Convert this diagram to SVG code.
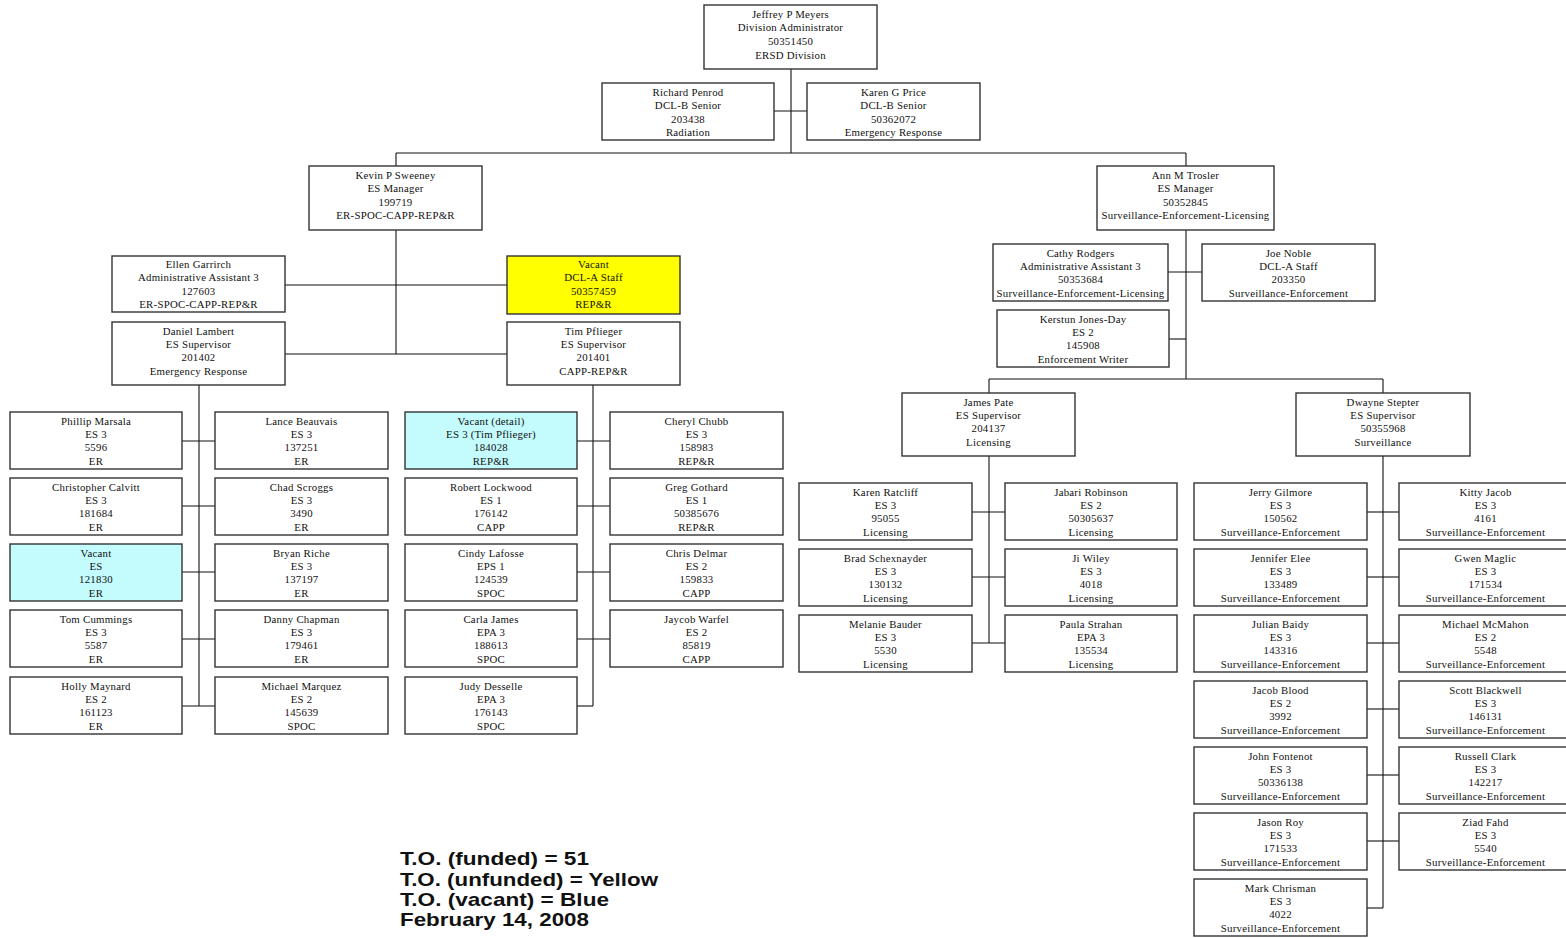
<svg xmlns="http://www.w3.org/2000/svg" width="1566" height="938" viewBox="0 0 1566 938">
<style>
.n rect{fill:#fff;stroke:#333;stroke-width:1.4}
.n.y rect{fill:#ffff00}
.n.b rect{fill:#c4fbfd}
.n text{font-family:"Liberation Serif","Times New Roman",serif;font-size:10.8px;letter-spacing:0.25px;fill:#111;text-anchor:middle}
.c line{stroke:#111;stroke-width:1.1}
.lg{font-family:"Liberation Sans",Arial,sans-serif;font-size:19px;font-weight:bold;fill:#111}
</style>
<rect width="1566" height="938" fill="#fff"/>
<g class="c" id="connectors">
<line x1="791" y1="69" x2="791" y2="153"/>
<line x1="774" y1="111" x2="807" y2="111"/>
<line x1="396" y1="153" x2="1186" y2="153"/>
<line x1="396" y1="153" x2="396" y2="166"/>
<line x1="1186" y1="153" x2="1186" y2="166"/>
<line x1="396" y1="230" x2="396" y2="354"/>
<line x1="285" y1="285" x2="507" y2="285"/>
<line x1="285" y1="354" x2="507" y2="354"/>
<line x1="199" y1="385" x2="199" y2="706"/>
<line x1="182" y1="441" x2="215" y2="441"/>
<line x1="182" y1="506" x2="215" y2="506"/>
<line x1="182" y1="572" x2="215" y2="572"/>
<line x1="182" y1="639" x2="215" y2="639"/>
<line x1="182" y1="706" x2="215" y2="706"/>
<line x1="593" y1="385" x2="593" y2="706"/>
<line x1="577" y1="441" x2="610" y2="441"/>
<line x1="577" y1="506" x2="610" y2="506"/>
<line x1="577" y1="572" x2="610" y2="572"/>
<line x1="577" y1="639" x2="610" y2="639"/>
<line x1="577" y1="706" x2="593" y2="706"/>
<line x1="1186" y1="230" x2="1186" y2="379"/>
<line x1="1168" y1="272" x2="1202" y2="272"/>
<line x1="1169" y1="339" x2="1186" y2="339"/>
<line x1="989" y1="379" x2="1383" y2="379"/>
<line x1="989" y1="379" x2="989" y2="393"/>
<line x1="1383" y1="379" x2="1383" y2="393"/>
<line x1="989" y1="456" x2="989" y2="643"/>
<line x1="972" y1="512" x2="1005" y2="512"/>
<line x1="972" y1="577" x2="1005" y2="577"/>
<line x1="972" y1="643" x2="1005" y2="643"/>
<line x1="1383" y1="456" x2="1383" y2="908"/>
<line x1="1367" y1="512" x2="1399" y2="512"/>
<line x1="1367" y1="577" x2="1399" y2="577"/>
<line x1="1367" y1="643" x2="1399" y2="643"/>
<line x1="1367" y1="709" x2="1399" y2="709"/>
<line x1="1367" y1="775" x2="1399" y2="775"/>
<line x1="1367" y1="841" x2="1399" y2="841"/>
<line x1="1367" y1="908" x2="1383" y2="908"/>
</g>

<g class="n" id="jeffrey"><rect x="704" y="5" width="173" height="64"/><text x="790.5" y="17.5"><tspan x="790.5">Jeffrey P Meyers</tspan><tspan x="790.5" dy="13.7">Division Administrator</tspan><tspan x="790.5" dy="13.7">50351450</tspan><tspan x="790.5" dy="13.7">ERSD Division</tspan></text></g>
<g class="n" id="richard"><rect x="602" y="83" width="172" height="57"/><text x="688" y="95.5"><tspan x="688">Richard Penrod</tspan><tspan x="688" dy="13.6">DCL-B Senior</tspan><tspan x="688" dy="13.6">203438</tspan><tspan x="688" dy="13.6">Radiation</tspan></text></g>
<g class="n" id="karenprice"><rect x="807" y="83" width="173" height="57"/><text x="893.5" y="95.5"><tspan x="893.5">Karen G Price</tspan><tspan x="893.5" dy="13.6">DCL-B Senior</tspan><tspan x="893.5" dy="13.6">50362072</tspan><tspan x="893.5" dy="13.6">Emergency Response</tspan></text></g>
<g class="n" id="kevin"><rect x="309" y="166" width="173" height="64"/><text x="395.5" y="178.5"><tspan x="395.5">Kevin P Sweeney</tspan><tspan x="395.5" dy="13.6">ES Manager</tspan><tspan x="395.5" dy="13.6">199719</tspan><tspan x="395.5" dy="13.6">ER-SPOC-CAPP-REP&amp;R</tspan></text></g>
<g class="n" id="ann"><rect x="1097" y="166" width="177" height="64"/><text x="1185.5" y="178.5"><tspan x="1185.5">Ann M Trosler</tspan><tspan x="1185.5" dy="13.6">ES Manager</tspan><tspan x="1185.5" dy="13.6">50352845</tspan><tspan x="1185.5" dy="13.6">Surveillance-Enforcement-Licensing</tspan></text></g>
<g class="n" id="ellen"><rect x="112" y="256" width="173" height="56"/><text x="198.5" y="268"><tspan x="198.5">Ellen Garrirch</tspan><tspan x="198.5" dy="13.4">Administrative Assistant 3</tspan><tspan x="198.5" dy="13.4">127603</tspan><tspan x="198.5" dy="13.4">ER-SPOC-CAPP-REP&amp;R</tspan></text></g>
<g class="n y" id="vacant-dcla"><rect x="507" y="256" width="173" height="58"/><text x="593.5" y="268"><tspan x="593.5">Vacant</tspan><tspan x="593.5" dy="13.4">DCL-A Staff</tspan><tspan x="593.5" dy="13.4">50357459</tspan><tspan x="593.5" dy="13.4">REP&amp;R</tspan></text></g>
<g class="n" id="daniel"><rect x="112" y="322" width="173" height="63"/><text x="198.5" y="334.5"><tspan x="198.5">Daniel Lambert</tspan><tspan x="198.5" dy="13.4">ES Supervisor</tspan><tspan x="198.5" dy="13.4">201402</tspan><tspan x="198.5" dy="13.4">Emergency Response</tspan></text></g>
<g class="n" id="tim"><rect x="507" y="322" width="173" height="63"/><text x="593.5" y="334.5"><tspan x="593.5">Tim Pflieger</tspan><tspan x="593.5" dy="13.4">ES Supervisor</tspan><tspan x="593.5" dy="13.4">201401</tspan><tspan x="593.5" dy="13.4">CAPP-REP&amp;R</tspan></text></g>

<!-- Daniel's team -->
<g class="n" id="phillip"><rect x="10" y="412" width="172" height="57"/><text x="96" y="424.5"><tspan x="96">Phillip Marsala</tspan><tspan x="96" dy="13.4">ES 3</tspan><tspan x="96" dy="13.4">5596</tspan><tspan x="96" dy="13.4">ER</tspan></text></g>
<g class="n" id="lance"><rect x="215" y="412" width="173" height="57"/><text x="301.5" y="424.5"><tspan x="301.5">Lance Beauvais</tspan><tspan x="301.5" dy="13.4">ES 3</tspan><tspan x="301.5" dy="13.4">137251</tspan><tspan x="301.5" dy="13.4">ER</tspan></text></g>
<g class="n" id="christopher"><rect x="10" y="478" width="172" height="57"/><text x="96" y="490.5"><tspan x="96">Christopher Calvitt</tspan><tspan x="96" dy="13.4">ES 3</tspan><tspan x="96" dy="13.4">181684</tspan><tspan x="96" dy="13.4">ER</tspan></text></g>
<g class="n" id="chad"><rect x="215" y="478" width="173" height="57"/><text x="301.5" y="490.5"><tspan x="301.5">Chad Scroggs</tspan><tspan x="301.5" dy="13.4">ES 3</tspan><tspan x="301.5" dy="13.4">3490</tspan><tspan x="301.5" dy="13.4">ER</tspan></text></g>
<g class="n b" id="vacant-es"><rect x="10" y="544" width="172" height="57"/><text x="96" y="556.5"><tspan x="96">Vacant</tspan><tspan x="96" dy="13.4">ES</tspan><tspan x="96" dy="13.4">121830</tspan><tspan x="96" dy="13.4">ER</tspan></text></g>
<g class="n" id="bryan"><rect x="215" y="544" width="173" height="57"/><text x="301.5" y="556.5"><tspan x="301.5">Bryan Riche</tspan><tspan x="301.5" dy="13.4">ES 3</tspan><tspan x="301.5" dy="13.4">137197</tspan><tspan x="301.5" dy="13.4">ER</tspan></text></g>
<g class="n" id="tom"><rect x="10" y="610" width="172" height="57"/><text x="96" y="622.5"><tspan x="96">Tom Cummings</tspan><tspan x="96" dy="13.4">ES 3</tspan><tspan x="96" dy="13.4">5587</tspan><tspan x="96" dy="13.4">ER</tspan></text></g>
<g class="n" id="danny"><rect x="215" y="610" width="173" height="57"/><text x="301.5" y="622.5"><tspan x="301.5">Danny Chapman</tspan><tspan x="301.5" dy="13.4">ES 3</tspan><tspan x="301.5" dy="13.4">179461</tspan><tspan x="301.5" dy="13.4">ER</tspan></text></g>
<g class="n" id="holly"><rect x="10" y="677" width="172" height="57"/><text x="96" y="689.5"><tspan x="96">Holly Maynard</tspan><tspan x="96" dy="13.4">ES 2</tspan><tspan x="96" dy="13.4">161123</tspan><tspan x="96" dy="13.4">ER</tspan></text></g>
<g class="n" id="michaelm"><rect x="215" y="677" width="173" height="57"/><text x="301.5" y="689.5"><tspan x="301.5">Michael Marquez</tspan><tspan x="301.5" dy="13.4">ES 2</tspan><tspan x="301.5" dy="13.4">145639</tspan><tspan x="301.5" dy="13.4">SPOC</tspan></text></g>

<!-- Tim's team -->
<g class="n b" id="vacant-detail"><rect x="405" y="412" width="172" height="57"/><text x="491" y="424.5"><tspan x="491">Vacant (detail)</tspan><tspan x="491" dy="13.4">ES 3 (Tim Pflieger)</tspan><tspan x="491" dy="13.4">184028</tspan><tspan x="491" dy="13.4">REP&amp;R</tspan></text></g>
<g class="n" id="cheryl"><rect x="610" y="412" width="173" height="57"/><text x="696.5" y="424.5"><tspan x="696.5">Cheryl Chubb</tspan><tspan x="696.5" dy="13.4">ES 3</tspan><tspan x="696.5" dy="13.4">158983</tspan><tspan x="696.5" dy="13.4">REP&amp;R</tspan></text></g>
<g class="n" id="robert"><rect x="405" y="478" width="172" height="57"/><text x="491" y="490.5"><tspan x="491">Robert Lockwood</tspan><tspan x="491" dy="13.4">ES 1</tspan><tspan x="491" dy="13.4">176142</tspan><tspan x="491" dy="13.4">CAPP</tspan></text></g>
<g class="n" id="greg"><rect x="610" y="478" width="173" height="57"/><text x="696.5" y="490.5"><tspan x="696.5">Greg Gothard</tspan><tspan x="696.5" dy="13.4">ES 1</tspan><tspan x="696.5" dy="13.4">50385676</tspan><tspan x="696.5" dy="13.4">REP&amp;R</tspan></text></g>
<g class="n" id="cindy"><rect x="405" y="544" width="172" height="57"/><text x="491" y="556.5"><tspan x="491">Cindy Lafosse</tspan><tspan x="491" dy="13.4">EPS 1</tspan><tspan x="491" dy="13.4">124539</tspan><tspan x="491" dy="13.4">SPOC</tspan></text></g>
<g class="n" id="chris"><rect x="610" y="544" width="173" height="57"/><text x="696.5" y="556.5"><tspan x="696.5">Chris Delmar</tspan><tspan x="696.5" dy="13.4">ES 2</tspan><tspan x="696.5" dy="13.4">159833</tspan><tspan x="696.5" dy="13.4">CAPP</tspan></text></g>
<g class="n" id="carla"><rect x="405" y="610" width="172" height="57"/><text x="491" y="622.5"><tspan x="491">Carla James</tspan><tspan x="491" dy="13.4">EPA 3</tspan><tspan x="491" dy="13.4">188613</tspan><tspan x="491" dy="13.4">SPOC</tspan></text></g>
<g class="n" id="jaycob"><rect x="610" y="610" width="173" height="57"/><text x="696.5" y="622.5"><tspan x="696.5">Jaycob Warfel</tspan><tspan x="696.5" dy="13.4">ES 2</tspan><tspan x="696.5" dy="13.4">85819</tspan><tspan x="696.5" dy="13.4">CAPP</tspan></text></g>
<g class="n" id="judy"><rect x="405" y="677" width="172" height="57"/><text x="491" y="689.5"><tspan x="491">Judy Desselle</tspan><tspan x="491" dy="13.4">EPA 3</tspan><tspan x="491" dy="13.4">176143</tspan><tspan x="491" dy="13.4">SPOC</tspan></text></g>

<!-- Ann's staff -->
<g class="n" id="cathy"><rect x="993" y="244" width="175" height="57"/><text x="1080.5" y="256.5"><tspan x="1080.5">Cathy Rodgers</tspan><tspan x="1080.5" dy="13.4">Administrative Assistant 3</tspan><tspan x="1080.5" dy="13.4">50353684</tspan><tspan x="1080.5" dy="13.4">Surveillance-Enforcement-Licensing</tspan></text></g>
<g class="n" id="joe"><rect x="1202" y="244" width="173" height="57"/><text x="1288.5" y="256.5"><tspan x="1288.5">Joe Noble</tspan><tspan x="1288.5" dy="13.4">DCL-A Staff</tspan><tspan x="1288.5" dy="13.4">203350</tspan><tspan x="1288.5" dy="13.4">Surveillance-Enforcement</tspan></text></g>
<g class="n" id="kerstun"><rect x="997" y="310" width="172" height="57"/><text x="1083" y="322.5"><tspan x="1083">Kerstun Jones-Day</tspan><tspan x="1083" dy="13.4">ES 2</tspan><tspan x="1083" dy="13.4">145908</tspan><tspan x="1083" dy="13.4">Enforcement Writer</tspan></text></g>
<g class="n" id="james"><rect x="902" y="393" width="173" height="63"/><text x="988.5" y="405.5"><tspan x="988.5">James Pate</tspan><tspan x="988.5" dy="13.4">ES Supervisor</tspan><tspan x="988.5" dy="13.4">204137</tspan><tspan x="988.5" dy="13.4">Licensing</tspan></text></g>
<g class="n" id="dwayne"><rect x="1296" y="393" width="174" height="63"/><text x="1383" y="405.5"><tspan x="1383">Dwayne Stepter</tspan><tspan x="1383" dy="13.4">ES Supervisor</tspan><tspan x="1383" dy="13.4">50355968</tspan><tspan x="1383" dy="13.4">Surveillance</tspan></text></g>

<!-- James's team -->
<g class="n" id="karenr"><rect x="799" y="483" width="173" height="57"/><text x="885.5" y="495.5"><tspan x="885.5">Karen Ratcliff</tspan><tspan x="885.5" dy="13.4">ES 3</tspan><tspan x="885.5" dy="13.4">95055</tspan><tspan x="885.5" dy="13.4">Licensing</tspan></text></g>
<g class="n" id="jabari"><rect x="1005" y="483" width="172" height="57"/><text x="1091" y="495.5"><tspan x="1091">Jabari Robinson</tspan><tspan x="1091" dy="13.4">ES 2</tspan><tspan x="1091" dy="13.4">50305637</tspan><tspan x="1091" dy="13.4">Licensing</tspan></text></g>
<g class="n" id="brad"><rect x="799" y="549" width="173" height="57"/><text x="885.5" y="561.5"><tspan x="885.5">Brad Schexnayder</tspan><tspan x="885.5" dy="13.4">ES 3</tspan><tspan x="885.5" dy="13.4">130132</tspan><tspan x="885.5" dy="13.4">Licensing</tspan></text></g>
<g class="n" id="ji"><rect x="1005" y="549" width="172" height="57"/><text x="1091" y="561.5"><tspan x="1091">Ji Wiley</tspan><tspan x="1091" dy="13.4">ES 3</tspan><tspan x="1091" dy="13.4">4018</tspan><tspan x="1091" dy="13.4">Licensing</tspan></text></g>
<g class="n" id="melanie"><rect x="799" y="615" width="173" height="57"/><text x="885.5" y="627.5"><tspan x="885.5">Melanie Bauder</tspan><tspan x="885.5" dy="13.4">ES 3</tspan><tspan x="885.5" dy="13.4">5530</tspan><tspan x="885.5" dy="13.4">Licensing</tspan></text></g>
<g class="n" id="paula"><rect x="1005" y="615" width="172" height="57"/><text x="1091" y="627.5"><tspan x="1091">Paula Strahan</tspan><tspan x="1091" dy="13.4">EPA 3</tspan><tspan x="1091" dy="13.4">135534</tspan><tspan x="1091" dy="13.4">Licensing</tspan></text></g>

<!-- Dwayne's team -->
<g class="n" id="jerry"><rect x="1194" y="483" width="173" height="57"/><text x="1280.5" y="495.5"><tspan x="1280.5">Jerry Gilmore</tspan><tspan x="1280.5" dy="13.4">ES 3</tspan><tspan x="1280.5" dy="13.4">150562</tspan><tspan x="1280.5" dy="13.4">Surveillance-Enforcement</tspan></text></g>
<g class="n" id="kitty"><rect x="1399" y="483" width="173" height="57"/><text x="1485.5" y="495.5"><tspan x="1485.5">Kitty Jacob</tspan><tspan x="1485.5" dy="13.4">ES 3</tspan><tspan x="1485.5" dy="13.4">4161</tspan><tspan x="1485.5" dy="13.4">Surveillance-Enforcement</tspan></text></g>
<g class="n" id="jennifer"><rect x="1194" y="549" width="173" height="57"/><text x="1280.5" y="561.5"><tspan x="1280.5">Jennifer Elee</tspan><tspan x="1280.5" dy="13.4">ES 3</tspan><tspan x="1280.5" dy="13.4">133489</tspan><tspan x="1280.5" dy="13.4">Surveillance-Enforcement</tspan></text></g>
<g class="n" id="gwen"><rect x="1399" y="549" width="173" height="57"/><text x="1485.5" y="561.5"><tspan x="1485.5">Gwen Maglic</tspan><tspan x="1485.5" dy="13.4">ES 3</tspan><tspan x="1485.5" dy="13.4">171534</tspan><tspan x="1485.5" dy="13.4">Surveillance-Enforcement</tspan></text></g>
<g class="n" id="julian"><rect x="1194" y="615" width="173" height="57"/><text x="1280.5" y="627.5"><tspan x="1280.5">Julian Baidy</tspan><tspan x="1280.5" dy="13.4">ES 3</tspan><tspan x="1280.5" dy="13.4">143316</tspan><tspan x="1280.5" dy="13.4">Surveillance-Enforcement</tspan></text></g>
<g class="n" id="michaelmc"><rect x="1399" y="615" width="173" height="57"/><text x="1485.5" y="627.5"><tspan x="1485.5">Michael McMahon</tspan><tspan x="1485.5" dy="13.4">ES 2</tspan><tspan x="1485.5" dy="13.4">5548</tspan><tspan x="1485.5" dy="13.4">Surveillance-Enforcement</tspan></text></g>
<g class="n" id="jacob"><rect x="1194" y="681" width="173" height="57"/><text x="1280.5" y="693.5"><tspan x="1280.5">Jacob Blood</tspan><tspan x="1280.5" dy="13.4">ES 2</tspan><tspan x="1280.5" dy="13.4">3992</tspan><tspan x="1280.5" dy="13.4">Surveillance-Enforcement</tspan></text></g>
<g class="n" id="scott"><rect x="1399" y="681" width="173" height="57"/><text x="1485.5" y="693.5"><tspan x="1485.5">Scott Blackwell</tspan><tspan x="1485.5" dy="13.4">ES 3</tspan><tspan x="1485.5" dy="13.4">146131</tspan><tspan x="1485.5" dy="13.4">Surveillance-Enforcement</tspan></text></g>
<g class="n" id="john"><rect x="1194" y="747" width="173" height="57"/><text x="1280.5" y="759.5"><tspan x="1280.5">John Fontenot</tspan><tspan x="1280.5" dy="13.4">ES 3</tspan><tspan x="1280.5" dy="13.4">50336138</tspan><tspan x="1280.5" dy="13.4">Surveillance-Enforcement</tspan></text></g>
<g class="n" id="russell"><rect x="1399" y="747" width="173" height="57"/><text x="1485.5" y="759.5"><tspan x="1485.5">Russell Clark</tspan><tspan x="1485.5" dy="13.4">ES 3</tspan><tspan x="1485.5" dy="13.4">142217</tspan><tspan x="1485.5" dy="13.4">Surveillance-Enforcement</tspan></text></g>
<g class="n" id="jason"><rect x="1194" y="813" width="173" height="57"/><text x="1280.5" y="825.5"><tspan x="1280.5">Jason Roy</tspan><tspan x="1280.5" dy="13.4">ES 3</tspan><tspan x="1280.5" dy="13.4">171533</tspan><tspan x="1280.5" dy="13.4">Surveillance-Enforcement</tspan></text></g>
<g class="n" id="ziad"><rect x="1399" y="813" width="173" height="57"/><text x="1485.5" y="825.5"><tspan x="1485.5">Ziad Fahd</tspan><tspan x="1485.5" dy="13.4">ES 3</tspan><tspan x="1485.5" dy="13.4">5540</tspan><tspan x="1485.5" dy="13.4">Surveillance-Enforcement</tspan></text></g>
<g class="n" id="mark"><rect x="1194" y="879" width="173" height="57"/><text x="1280.5" y="891.5"><tspan x="1280.5">Mark Chrisman</tspan><tspan x="1280.5" dy="13.4">ES 3</tspan><tspan x="1280.5" dy="13.4">4022</tspan><tspan x="1280.5" dy="13.4">Surveillance-Enforcement</tspan></text></g>

<g id="legend">
<text class="lg" x="400" y="865" textLength="189" lengthAdjust="spacingAndGlyphs">T.O. (funded) = 51</text>
<text class="lg" x="400" y="885.5" textLength="258" lengthAdjust="spacingAndGlyphs">T.O. (unfunded) = Yellow</text>
<text class="lg" x="400" y="906" textLength="209" lengthAdjust="spacingAndGlyphs">T.O. (vacant) = Blue</text>
<text class="lg" x="400" y="926" textLength="189" lengthAdjust="spacingAndGlyphs">February 14, 2008</text>
</g>
</svg>
